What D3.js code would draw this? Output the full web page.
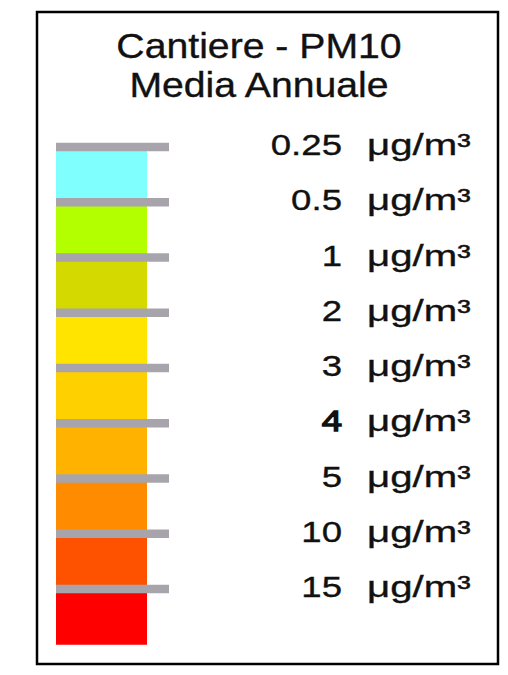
<!DOCTYPE html>
<html>
<head>
<meta charset="utf-8">
<script src="https://cdn.jsdelivr.net/npm/d3@7"></script>
<style>
  html, body { margin: 0; padding: 0; background: #fff; }
  svg { display: block; }
  text { font-family: "Liberation Sans", Arial, sans-serif; fill: #111; stroke: #111; stroke-width: 0.35; }
</style>
</head>
<body>
<svg id="chart" width="508" height="675"></svg>
<script>
const titleLines = ["Cantiere - PM10", "Media Annuale"];
const classLabels = ["0.25", "0.5", "1", "2", "3", "4", "5", "10", "15"];
const unitLabel = "μg/m³";
const classColors = ["#80ffff", "#b3ff00", "#d4da00", "#ffe400", "#ffd000", "#ffb300", "#ff8c00", "#ff5200", "#ff0000"];

const svg = d3.select("#chart");

// frame
svg.append("rect")
  .attr("x", 37).attr("y", 12).attr("width", 461).attr("height", 652)
  .attr("fill", "#fff").attr("stroke", "#000").attr("stroke-width", 2.5);

// title
const title = svg.append("g").attr("transform", "translate(259,0) scale(1.12,1)");
title.selectAll("text").data(titleLines).join("text")
  .attr("x", 0)
  .attr("y", (d, i) => 58 + i * 39)
  .attr("text-anchor", "middle")
  .attr("font-size", 35)
  .text(d => d);

// scale for class boundaries
const y = d3.scalePoint().domain(classLabels).range([147, 589]);
const step = y.step();
const x = d3.scaleLinear().domain([0, 1]).range([56, 147]);

// colour bands
svg.append("g").selectAll("rect").data(classLabels).join("rect")
  .attr("x", x(0))
  .attr("y", d => y(d))
  .attr("width", x(1) - x(0))
  .attr("height", step + 0.5)
  .attr("fill", (d, i) => classColors[i]);

// grey boundary ticks
svg.append("g").selectAll("line").data(classLabels).join("line")
  .attr("x1", x(0)).attr("x2", 169)
  .attr("y1", d => y(d)).attr("y2", d => y(d))
  .attr("stroke", "#a8a4ab").attr("stroke-width", 8.5);

// labels
const lab = svg.append("g").selectAll("g").data(classLabels).join("g")
  .attr("transform", d => `translate(0,${y(d) + 8})`);
lab.append("text")
  .attr("transform", "translate(342,0) scale(1.22,1)")
  .attr("text-anchor", "end")
  .attr("font-size", 30)
  .style("stroke-width", d => d === "4" ? 1.3 : null)
  .text(d => d);
lab.append("text")
  .attr("transform", "translate(367,0) scale(1.34,1)")
  .attr("text-anchor", "start")
  .attr("font-size", 30)
  .text(unitLabel);
</script>
</body>
</html>
